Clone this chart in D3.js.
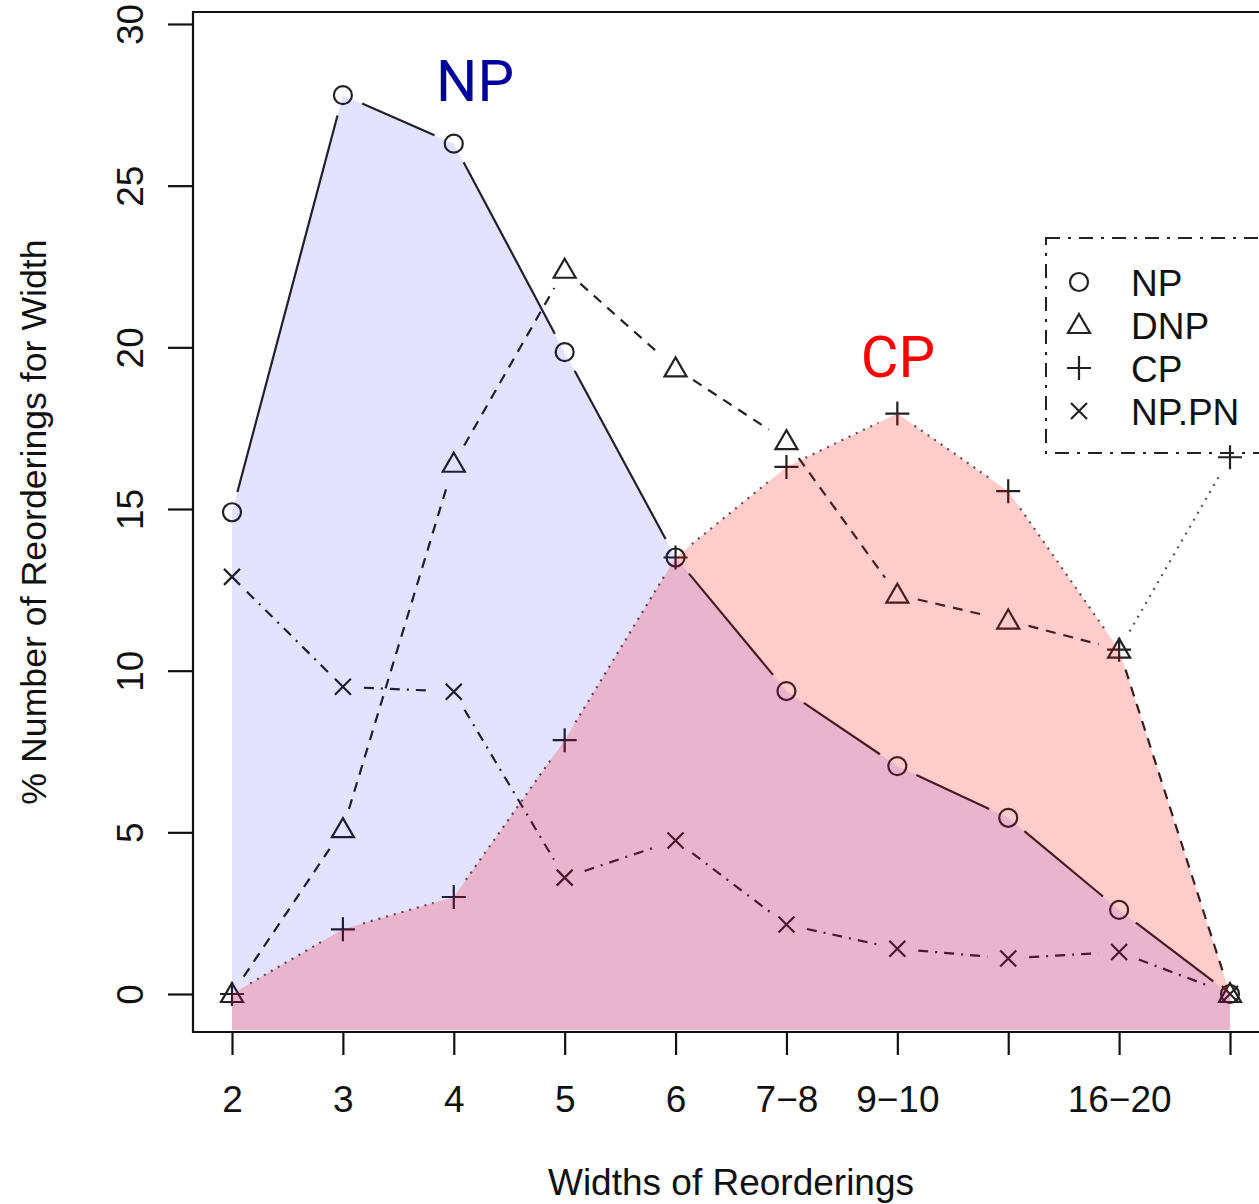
<!DOCTYPE html>
<html>
<head>
<meta charset="utf-8">
<script src="https://cdn.jsdelivr.net/npm/d3@7"></script>
<style>
  body { margin: 0; background: #fff; }
  text { font-family: "Liberation Sans", Arial, sans-serif; }
</style>
</head>
<body>
<script>
// widths of reorderings (x categories), some labels dropped like R does
var categories = ["2", "3", "4", "5", "6", "7\u22128", "9\u221210", "11\u221215", "16\u221220", "21+"];
var tickLabels = ["2", "3", "4", "5", "6", "7\u22128", "9\u221210", "", "16\u221220", ""];
var yTicks = [0, 5, 10, 15, 20, 25, 30];

var npValues   = [14.9, 27.8, 26.3, 19.85, 13.5, 9.37, 7.05, 5.45, 2.6, 0];
var dnpValues  = [0, 5.1, 16.4, 22.4, 19.35, 17.1, 12.35, 11.55, 10.65, 0];
var cpValues   = [0, 2.0, 3.0, 7.85, 13.5, 16.3, 17.95, 15.55, 10.65, 16.6];
var nppnValues = [12.9, 9.5, 9.35, 3.6, 4.75, 2.15, 1.4, 1.1, 1.3, 0];
// shaded areas (CP area drops to 0 at the last width)
var npArea = [14.9, 27.8, 26.3, 19.85, 13.5, 9.37, 7.05, 5.45, 2.6, 0];
var cpArea = [0, 2.0, 3.0, 7.85, 13.5, 16.3, 17.95, 15.55, 10.65, 0];

var seriesNames = ["NP", "DNP", "CP", "NP.PN"];

var W = 1259, H = 1204;
var box = {left: 193, top: 12, bottom: 1032, right: 1300};

var svg = d3.select("body").append("svg")
  .attr("width", W)
  .attr("height", H);

var xScale = d3.scalePoint()
  .domain(categories)
  .range([232, 1230]);

var yScale = d3.scaleLinear()
  .domain([0, 30])
  .range([994, 24]);

var series = [
  {name: "NP", values: npValues, shape: "circle", dash: null},
  {name: "DNP", values: dnpValues, shape: "triangle", dash: "10,8"},
  {name: "CP", values: cpValues, shape: "plus", dash: "2,6"},
  {name: "NP.PN", values: nppnValues, shape: "cross", dash: "10,7,2,7"}
];

function drawSymbol(g, shape, cx, cy) {
  if (shape == "circle") {
    g.append("circle").attr("cx", cx).attr("cy", cy).attr("r", 9)
      .attr("fill", "none").attr("stroke", "#222").attr("stroke-width", 2.2);
  } else if (shape == "triangle") {
    g.append("path")
      .attr("d", "M" + cx + "," + (cy - 11) + "L" + (cx + 11) + "," + (cy + 8) + "L" + (cx - 11) + "," + (cy + 8) + "Z")
      .attr("fill", "none").attr("stroke", "#222").attr("stroke-width", 2.2);
  } else if (shape == "plus") {
    g.append("path")
      .attr("d", "M" + (cx - 12) + "," + cy + "H" + (cx + 12) + "M" + cx + "," + (cy - 12) + "V" + (cy + 12))
      .attr("fill", "none").attr("stroke", "#222").attr("stroke-width", 2.2);
  } else {
    g.append("path")
      .attr("d", "M" + (cx - 8) + "," + (cy - 8) + "L" + (cx + 8) + "," + (cy + 8) + "M" + (cx + 8) + "," + (cy - 8) + "L" + (cx - 8) + "," + (cy + 8))
      .attr("fill", "none").attr("stroke", "#222").attr("stroke-width", 2.2);
  }
}

// lines with gaps round the points (R type="b") and the symbols
var gap = 21;
series.forEach(function(s) {
  var g = svg.append("g");
  for (var i = 0; i < categories.length - 1; i++) {
    var x1 = xScale(categories[i]), y1 = yScale(s.values[i]);
    var x2 = xScale(categories[i + 1]), y2 = yScale(s.values[i + 1]);
    var len = Math.sqrt((x2 - x1) * (x2 - x1) + (y2 - y1) * (y2 - y1));
    if (len <= 2 * gap) continue;
    var ux = (x2 - x1) / len, uy = (y2 - y1) / len;
    g.append("line")
      .attr("x1", x1 + ux * gap).attr("y1", y1 + uy * gap)
      .attr("x2", x2 - ux * gap).attr("y2", y2 - uy * gap)
      .attr("stroke", s.name == "CP" ? "#555" : "#222")
      .attr("stroke-width", 2.2)
      .attr("stroke-dasharray", s.dash);
  }
  s.values.forEach(function(v, i) {
    drawSymbol(g, s.shape, xScale(categories[i]), yScale(v));
  });
});

// shaded areas, drawn over the lines with transparency
var area = d3.area()
  .x(function(d, i) { return xScale(categories[i]); })
  .y0(box.bottom - 2)
  .y1(function(d) { return yScale(d); });

svg.append("path")
  .datum(npArea)
  .attr("d", area)
  .attr("fill", "rgba(0,0,255,0.11)");

svg.append("path")
  .datum(cpArea)
  .attr("d", area)
  .attr("fill", "rgba(255,0,0,0.2)");

// plot frame
svg.append("path")
  .attr("d", "M" + box.right + "," + box.top + "H" + box.left + "V" + box.bottom + "H" + box.right)
  .attr("fill", "none")
  .attr("stroke", "#111")
  .attr("stroke-width", 2.2);

// x axis
var xAxis = d3.axisBottom(xScale)
  .tickSize(23)
  .tickFormat(function(d, i) { return tickLabels[i]; });

var gx = svg.append("g")
  .attr("transform", "translate(0," + box.bottom + ")")
  .call(xAxis);
gx.select(".domain").remove();
gx.selectAll(".tick line").attr("stroke", "#111").attr("stroke-width", 2.2);
gx.selectAll(".tick text")
  .attr("y", 80)
  .attr("dy", 0)
  .attr("fill", "#111")
  .style("font-size", "37px")
  .style("font-family", "Liberation Sans, Arial, sans-serif");

// y axis
var yAxis = d3.axisLeft(yScale)
  .tickValues(yTicks)
  .tickSize(25)
  .tickFormat(d3.format("d"));

var gy = svg.append("g")
  .attr("transform", "translate(" + box.left + ",0)")
  .call(yAxis);
gy.select(".domain").remove();
gy.selectAll(".tick line").attr("stroke", "#111").attr("stroke-width", 2.2);
gy.selectAll(".tick text")
  .attr("x", 0)
  .attr("dy", 0)
  .attr("transform", "translate(-50,0) rotate(-90)")
  .attr("text-anchor", "middle")
  .attr("fill", "#111")
  .style("font-size", "37px")
  .style("font-family", "Liberation Sans, Arial, sans-serif");

// axis titles
svg.append("text")
  .attr("x", 731)
  .attr("y", 1195)
  .attr("text-anchor", "middle")
  .attr("fill", "#111")
  .style("font-size", "37px")
  .text("Widths of Reorderings");

svg.append("text")
  .attr("transform", "translate(46,522) rotate(-90)")
  .attr("text-anchor", "middle")
  .attr("fill", "#111")
  .style("font-size", "35.7px")
  .text("% Number of Reorderings for Width");

// big labels
svg.append("text")
  .attr("x", 475)
  .attr("y", 101)
  .attr("text-anchor", "middle")
  .attr("fill", "#00009c")
  .style("font-family", "Roboto, sans-serif")
  .style("font-size", "58px")
  .text("NP");

svg.append("text")
  .attr("x", 898)
  .attr("y", 377)
  .attr("text-anchor", "middle")
  .attr("fill", "#ff0000")
  .style("font-family", "Roboto, sans-serif")
  .style("font-size", "58px")
  .text("CP");

// legend
var legend = svg.append("g");
legend.append("rect")
  .attr("x", 1046)
  .attr("y", 238)
  .attr("width", 300)
  .attr("height", 215)
  .attr("fill", "none")
  .attr("stroke", "#222")
  .attr("stroke-width", 2)
  .attr("stroke-dasharray", "14,8,3,8");

series.forEach(function(s, i) {
  var cy = 282 + i * 43;
  drawSymbol(legend, s.shape, 1079, cy);
  legend.append("text")
    .attr("x", 1131)
    .attr("y", cy + 14)
    .attr("fill", "#111")
    .style("font-size", "37px")
    .text(seriesNames[i]);
});
</script>
</body>
</html>
